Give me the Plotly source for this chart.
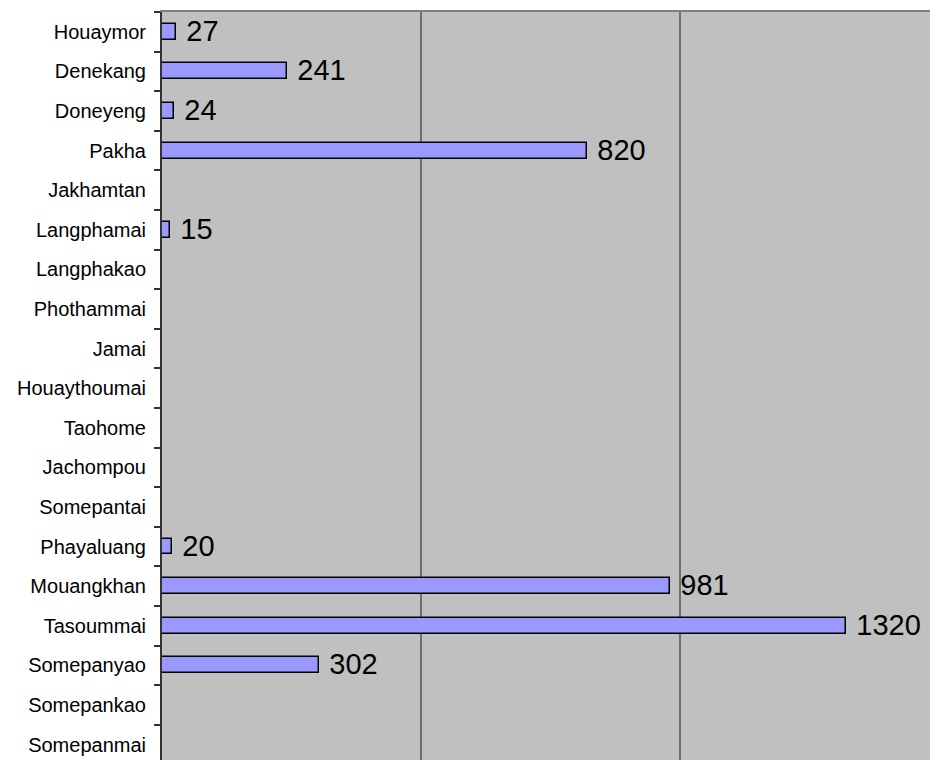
import plotly.graph_objects as go

categories = ["Houaymor", "Denekang", "Doneyeng", "Pakha", "Jakhamtan", "Langphamai",
              "Langphakao", "Phothammai", "Jamai", "Houaythoumai", "Taohome", "Jachompou",
              "Somepantai", "Phayaluang", "Mouangkhan", "Tasoummai", "Somepanyao",
              "Somepankao", "Somepanmai"]
values = [27, 241, 24, 820, None, 15, None, None, None, None, None, None, None,
          20, 981, 1320, 302, None, None]
labels = ["\u00a0" + str(v) if v else "" for v in values]

fig = go.Figure(go.Bar(
    y=categories, x=values, orientation="h",
    width=0.40,
    marker=dict(color="#9999FF", line=dict(color="#000000", width=1.5)),
    text=labels, textposition="outside", constraintext="none",
    textfont=dict(family="Liberation Sans, Arial, sans-serif", size=29, color="#000000"),
    cliponaxis=False,
    hoverinfo="skip",
))

fig.update_layout(
    width=930, height=760,
    margin=dict(l=162, r=0, t=12, b=0),
    paper_bgcolor="#FFFFFF",
    plot_bgcolor="#C0C0C0",
    showlegend=False,
    font=dict(family="Liberation Sans, Arial, sans-serif", color="#000000"),
    bargap=0,
)
fig.update_xaxes(
    range=[0, 1482], tick0=0, dtick=500,
    showgrid=True, gridcolor="#6E6E6E", gridwidth=1.5,
    zeroline=False, showticklabels=False, ticks="",
    side="top", showline=True, linecolor="#808080", linewidth=1.5,
)
fig.update_yaxes(
    type="category", categoryorder="array", categoryarray=categories,
    range=[18.39, -0.5], automargin=False,
    showline=True, linecolor="#333333", linewidth=2,
    ticks="outside", ticklen=6, tickwidth=1.5, tickcolor="#333333",
    tickson="boundaries", showgrid=False, zeroline=False,
    ticklabelstandoff=10,
    tickfont=dict(family="Liberation Sans, Arial, sans-serif", size=20, color="#000000"),
)

fig.write_html("out.html")
